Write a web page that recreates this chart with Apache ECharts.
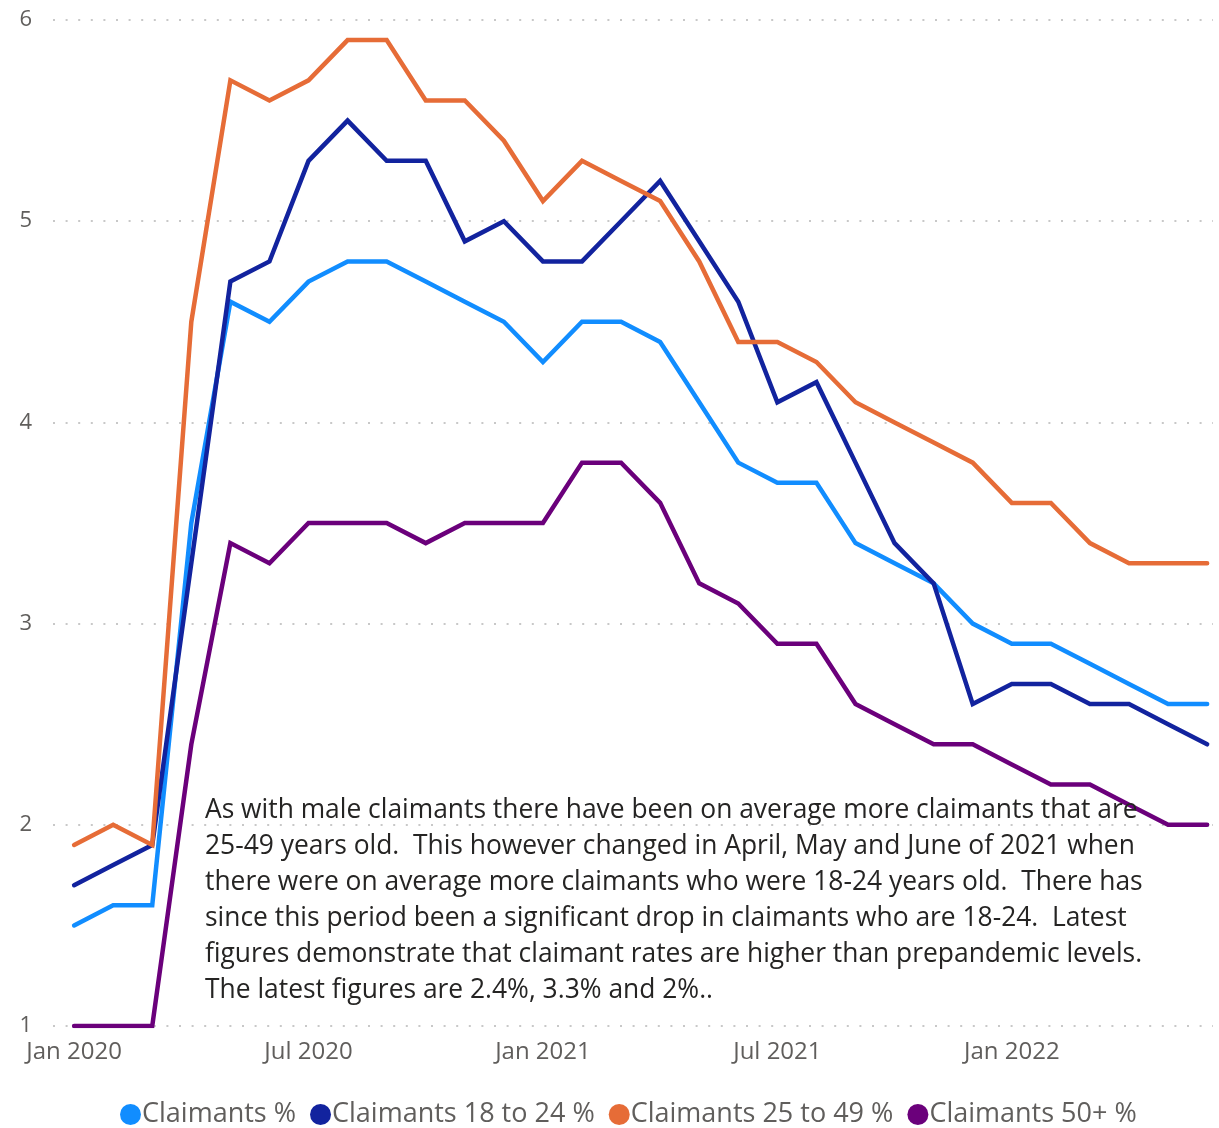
<!DOCTYPE html>
<html>
<head>
<meta charset="utf-8">
<title>Claimants by age group</title>
<script src="https://cdn.jsdelivr.net/npm/echarts@6/dist/echarts.min.js"></script>
<style>
  html, body { margin: 0; padding: 0; background: #ffffff; }
  #chart { width: 1219px; height: 1128px; }
</style>
</head>
<body>
<div id="chart"></div>
<script>
// Monthly claimant rates (%), Jan 2020 – Jun 2022
const months = [
  'Jan 2020','Feb 2020','Mar 2020','Apr 2020','May 2020','Jun 2020',
  'Jul 2020','Aug 2020','Sep 2020','Oct 2020','Nov 2020','Dec 2020',
  'Jan 2021','Feb 2021','Mar 2021','Apr 2021','May 2021','Jun 2021',
  'Jul 2021','Aug 2021','Sep 2021','Oct 2021','Nov 2021','Dec 2021',
  'Jan 2022','Feb 2022','Mar 2022','Apr 2022','May 2022','Jun 2022'
];
const tickMonths = ['Jan 2020', 'Jul 2020', 'Jan 2021', 'Jul 2021', 'Jan 2022'];
const yTicks = [1, 2, 3, 4, 5, 6];

const claimantsAll = [1.5,1.6,1.6,3.5,4.6,4.5,4.7,4.8,4.8,4.7,4.6,4.5,4.3,4.5,4.5,4.4,4.1,3.8,3.7,3.7,3.4,3.3,3.2,3.0,2.9,2.9,2.8,2.7,2.6,2.6];
const claimants18to24 = [1.7,1.8,1.9,3.3,4.7,4.8,5.3,5.5,5.3,5.3,4.9,5.0,4.8,4.8,5.0,5.2,4.9,4.6,4.1,4.2,3.8,3.4,3.2,2.6,2.7,2.7,2.6,2.6,2.5,2.4];
const claimants25to49 = [1.9,2.0,1.9,4.5,5.7,5.6,5.7,5.9,5.9,5.6,5.6,5.4,5.1,5.3,5.2,5.1,4.8,4.4,4.4,4.3,4.1,4.0,3.9,3.8,3.6,3.6,3.4,3.3,3.3,3.3];
const claimants50plus = [1.0,1.0,1.0,2.4,3.4,3.3,3.5,3.5,3.5,3.4,3.5,3.5,3.5,3.8,3.8,3.6,3.2,3.1,2.9,2.9,2.6,2.5,2.4,2.4,2.3,2.2,2.2,2.1,2.0,2.0];

const seriesNames = ['Claimants %', 'Claimants 18 to 24 %', 'Claimants 25 to 49 %', 'Claimants 50+ %'];
const seriesColors = ['#118DFF', '#12239E', '#E66C37', '#6B007B'];

const noteLines = [
  'As with male claimants there have been on average more claimants that are',
  '25-49 years old.  This however changed in April, May and June of 2021 when',
  'there were on average more claimants who were 18-24 years old.  There has',
  'since this period been a significant drop in claimants who are 18-24.  Latest',
  'figures demonstrate that claimant rates are higher than prepandemic levels.',
  'The latest figures are 2.4%, 3.3% and 2%..'
];

const FONT = '"Open Sans", "Noto Sans", sans-serif';
const AXIS_GREY = '#605E5C';

const seriesValues = [claimantsAll, claimants18to24, claimants25to49, claimants50plus];
const tickIndices = tickMonths.map(m => months.indexOf(m));

const chart = echarts.init(document.getElementById('chart'), null, { renderer: 'canvas' });

chart.setOption({
  animation: false,
  backgroundColor: '#ffffff',
  textStyle: { fontFamily: FONT },
  grid: { left: 53, right: 6, top: 20, bottom: 102, containLabel: false },
  xAxis: {
    type: 'value',
    min: -0.54,
    max: 29.15,
    axisLine: { show: false },
    axisTick: { show: false },
    splitLine: { show: false },
    axisLabel: {
      customValues: tickIndices,
      formatter: v => months[Math.round(v)],
      color: AXIS_GREY,
      fontFamily: FONT,
      fontSize: 24,
      margin: 14
    }
  },
  yAxis: {
    type: 'value',
    min: yTicks[0],
    max: yTicks[yTicks.length - 1],
    interval: 1,
    axisLine: { show: false },
    axisTick: { show: false },
    axisLabel: {
      color: AXIS_GREY,
      fontFamily: FONT,
      fontSize: 22,
      margin: 21
    },
    splitLine: {
      show: true,
      lineStyle: { color: '#C8C8C8', width: 2, type: [2, 10.6] }
    }
  },
  legend: {
    data: seriesNames,
    left: 115,
    top: 1096,
    icon: 'circle',
    itemWidth: 21,
    itemHeight: 21,
    itemGap: 14,
    textStyle: { color: AXIS_GREY, fontFamily: FONT, fontSize: 27, padding: [0, 0, 0, -4] }
  },
  series: seriesNames.map((name, i) => ({
    name,
    type: 'line',
    data: seriesValues[i].map((v, k) => [k, v]),
    showSymbol: false,
    symbol: 'circle',
    color: seriesColors[i],
    lineStyle: { color: seriesColors[i], width: 4.5, cap: 'round', join: 'miter' },
    emphasis: { disabled: true }
  })),
  graphic: [{
    type: 'text',
    left: 205,
    top: 792,
    z: 100,
    style: {
      text: noteLines.join('\n'),
      fill: '#252423',
      font: '26.4px ' + FONT,
      lineHeight: 36
    }
  }]
});
</script>
</body>
</html>
